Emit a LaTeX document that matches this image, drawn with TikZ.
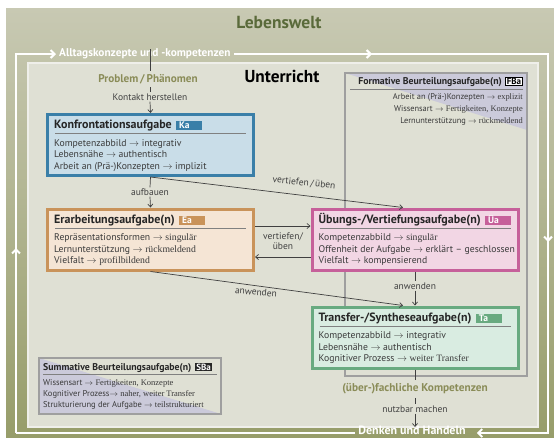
\documentclass[tikz,border=0pt]{standalone}
\usepackage{fontspec}
\setmainfont{PT Sans}
\newfontfamily\wertfont{Liberation Serif}
\usetikzlibrary{arrows.meta,calc}

\definecolor{lwhell}{HTML}{C8C9B3}
\definecolor{lwdunkel}{HTML}{979D6A}
\definecolor{lwtext}{HTML}{5A6A3A}
\definecolor{unterricht}{HTML}{DFE0D4}
\definecolor{oliv}{HTML}{8A8C58}
\definecolor{kablau}{HTML}{3A7FA8}
\definecolor{kahell}{HTML}{C9DDE8}
\definecolor{eaorange}{HTML}{C9935A}
\definecolor{eahell}{HTML}{F5E5D5}
\definecolor{uapink}{HTML}{C6609A}
\definecolor{uahell}{HTML}{F2D6E4}
\definecolor{tagruen}{HTML}{68AA80}
\definecolor{tahell}{HTML}{D9ECE1}
\definecolor{lavendel}{HTML}{CBCADA}
\definecolor{schrift}{HTML}{3A3A3A}
\definecolor{linie}{HTML}{404040}

\newcommand\wert[1]{{\wertfont #1}}

\begin{document}
\begin{tikzpicture}[x=1pt, y=-1pt, >={Straight Barb[length=3pt,width=5pt]},
  kasten/.style={rectangle, line width=3pt, minimum width=206pt, minimum height=61pt, inner sep=0pt},
  titel/.style={anchor=base west, inner sep=0pt, font=\fontsize{12}{14}\selectfont\bfseries, text=black!85},
  kuerzel/.style={anchor=base west, inner xsep=3pt, inner ysep=0pt, text height=7.5pt, text depth=1.5pt, text width=20pt, font=\fontsize{9.5}{10}\selectfont\bfseries, text=white},
  zeilen/.style={anchor=north west, inner sep=0pt, align=left, font=\fontsize{9.7}{11.7}\selectfont, text=schrift},
  trenner/.style={draw=gray, line width=1pt},
  verbinder/.style={draw=linie, line width=0.7pt},
  beschriftung/.style={font=\fontsize{9.5}{10.5}\selectfont, text=linie, inner sep=1pt},
  kreislauf/.style={draw=white, line width=2pt},
  kreispfeil/.style={-{Straight Barb[length=4pt,width=8pt]}},
  ]
  \useasboundingbox (0,0) rectangle (554,437);

  % Lebenswelt
  \shade[top color=lwhell, bottom color=lwdunkel] (6,8) rectangle (554,437);
  \node[font=\fontsize{17.5}{19}\selectfont\bfseries, text=lwtext] (lebenswelt) at (279,22) {Lebenswelt};

  % Unterricht
  \fill[unterricht] (28,63) rectangle (538,427);
  \draw[white!50!unterricht, line width=1.5pt] (28,63) rectangle (538,427);
  \node[font=\fontsize{17.3}{19}\selectfont\bfseries] (unterricht) at (282,76) {Unterricht};

  % Kreislauf
  \node[font=\fontsize{11.3}{13}\selectfont\bfseries, text=white, inner sep=3pt, anchor=west] (alltag) at (56,54) {Alltagskonzepte und -kompetenzen};
  \node[font=\fontsize{12}{13}\selectfont\bfseries, text=white, inner sep=3pt] (denken) at (412,430.5) {Denken und Handeln};
  \draw[kreislauf, kreispfeil] (16,433) -- (16,248);
  \draw[kreislauf, kreispfeil] (16,250) -- (16,54) -- (alltag.west);
  \draw[kreislauf, kreispfeil] (alltag.east) -- (372,54);
  \draw[kreislauf, kreispfeil] (370,54) -- (548,54) -- (548,242);
  \draw[kreislauf, kreispfeil] (548,240) -- (548,433) -- ($(denken.east |- 0,433)+(8,0)$);
  \draw[kreislauf] (denken.west |- 0,433) -- (16,433);

  % Formative Beurteilung
  \node[minimum width=182pt, minimum height=303pt, inner sep=0pt, outer sep=0pt] (fba) at (436,224.5) {};
  \fill[lavendel] (fba.north west) -- (fba.north east) -- ($(fba.north east)+(0,57)$) -- cycle;
  \draw[gray!75, line width=1.2pt] (fba.north west) rectangle (fba.south east);
  \node[anchor=base east, draw=black, fill=white, line width=0.6pt, inner xsep=1.5pt, inner ysep=1pt, font=\fontsize{9}{10}\selectfont\bfseries] (fbatag) at ($(fba.north east)+(-4,11.5)$) {FBa};
  \node[anchor=base east, inner sep=0pt, font=\fontsize{9.8}{11}\selectfont\bfseries, text=black!85] at ($(fbatag.base west)+(-3,0)$) {Formative Beurteilungsaufgabe(n)};
  \draw[trenner] ($(fba.north west)+(5,16)$) -- ($(fba.north east)+(-4,16)$);
  \node[anchor=north east, inner sep=0pt, align=right, font=\fontsize{8.4}{12}\selectfont, text=schrift] at ($(fba.north east)+(-4,20.5)$) {Arbeit an (Prä-)Konzepten $\rightarrow$ \wert{explizit}\\Wissensart $\rightarrow$ \wert{Fertigkeiten, Konzepte}\\Lernunterstützung $\rightarrow$ \wert{rückmeldend}};

  % Summative Beurteilung
  \node[minimum width=182pt, minimum height=56pt, inner sep=0pt, outer sep=0pt] (sba) at (130,386) {};
  \fill[lavendel] (sba.north west) -- (sba.south west) -- (sba.south east) -- cycle;
  \draw[gray!75, line width=1.2pt] (sba.north west) rectangle (sba.south east);
  \node[anchor=base west, inner sep=0pt, font=\fontsize{9.8}{11}\selectfont\bfseries, text=black!85] (sbatitel) at ($(sba.north west)+(4,12)$) {Summative Beurteilungsaufgabe(n)};
  \node[anchor=base west, fill=black!85, text=white, inner xsep=1.5pt, inner ysep=1pt, font=\fontsize{9}{10}\selectfont\bfseries] at ($(sbatitel.base east)+(3,0)$) {SBa};
  \draw[trenner] ($(sba.north west)+(4,16)$) -- ($(sba.north east)+(-4,16)$);
  \node[anchor=north west, inner sep=0pt, align=left, font=\fontsize{8.5}{11}\selectfont, text=schrift] at ($(sba.north west)+(4,21)$) {Wissensart $\rightarrow$ \wert{Fertigkeiten, Konzepte}\\Kognitiver Prozess$\rightarrow$ \wert{naher, weiter Transfer}\\Strukturierung der Aufgabe $\rightarrow$ \wert{teilstrukturiert}};

  % Konfrontationsaufgabe
  \node[kasten, draw=kablau, fill=kahell] (ka) at (150.5,145) {};
  \node[titel] (katitel) at ($(ka.north west)+(8,15.5)$) {Konfrontationsaufgabe};
  \node[kuerzel, fill=kablau] at ($(katitel.base east)+(4,0)$) {Ka};
  \draw[trenner] ($(ka.north west)+(9,20.5)$) -- ($(ka.north east)+(-9,20.5)$);
  \node[zeilen] at ($(ka.north west)+(8,26)$) {Kompetenzabbild $\rightarrow$ integrativ\\Lebensnähe $\rightarrow$ authentisch\\Arbeit an (Prä-)Konzepten $\rightarrow$ implizit};

  % Erarbeitungsaufgabe
  \node[kasten, draw=eaorange, fill=eahell] (ea) at (150.5,239.5) {};
  \node[titel] (eatitel) at ($(ea.north west)+(8,15.5)$) {Erarbeitungsaufgabe(n)};
  \node[kuerzel, fill=eaorange] at ($(eatitel.base east)+(4,0)$) {Ea};
  \draw[trenner] ($(ea.north west)+(9,21)$) -- ($(ea.north east)+(-9,21)$);
  \node[zeilen] at ($(ea.north west)+(8,26)$) {Repräsentationsformen $\rightarrow$ \wert{singulär}\\Lernunterstützung $\rightarrow$ \wert{rückmeldend}\\Vielfalt $\rightarrow$ \wert{profilbildend}};

  % Uebungsaufgabe
  \node[kasten, draw=uapink, fill=uahell] (ua) at (415,239.5) {};
  \node[titel] (uatitel) at ($(ua.north west)+(8,15.5)$) {Übungs-/Vertiefungsaufgabe(n)};
  \node[kuerzel, fill=uapink] at ($(uatitel.base east)+(4,0)$) {Üa};
  \draw[trenner] ($(ua.north west)+(9,21)$) -- ($(ua.north east)+(-9,21)$);
  \node[zeilen] at ($(ua.north west)+(8,26)$) {Kompetenzabbild $\rightarrow$ \wert{singulär}\\Offenheit der Aufgabe $\rightarrow$ erklärt -- geschlossen\\Vielfalt $\rightarrow$ kompensierend};

  % Transferaufgabe
  \node[kasten, draw=tagruen, fill=tahell] (ta) at (415,337.5) {};
  \node[titel] (tatitel) at ($(ta.north west)+(8,15.5)$) {Transfer-/Syntheseaufgabe(n)};
  \node[kuerzel, fill=tagruen] at ($(tatitel.base east)+(4,0)$) {Ta};
  \draw[trenner] ($(ta.north west)+(9,21)$) -- ($(ta.north east)+(-9,21)$);
  \node[zeilen] at ($(ta.north west)+(8,26)$) {Kompetenzabbild $\rightarrow$ integrativ\\Lebensnähe $\rightarrow$ authentisch\\Kognitiver Prozess $\rightarrow$ \wert{weiter Transfer}};

  % Einstieg
  \node[font=\fontsize{11.2}{13}\selectfont\bfseries, text=oliv] (problem) at (148,79) {Problem\,/\,Phänomen};
  \node[beschriftung] (kontakt) at (150,97) {Kontakt herstellen};
  \coordinate (alltagab) at (150,49);
  \draw[verbinder] (alltagab) -- (alltagab |- problem.north);
  \draw[verbinder] (problem.south -| kontakt.north) -- (kontakt.north);
  \draw[verbinder, ->] (kontakt.south) -- (ka.north);

  % Verbindungen
  \node[beschriftung] (aufbauen) at (150,192) {aufbauen};
  \draw[verbinder] (ka.south) -- (aufbauen.north);
  \draw[verbinder, ->] (aufbauen.south) -- (ea.north);

  \coordinate (uaein) at ($(ua.north)+(-12,0)$);
  \draw[verbinder, ->] (ka.south) -- (uaein);
  \node[beschriftung, rotate=-6] at (304,183) {vertiefen\,/\,üben};

  \draw[verbinder, ->] ($(ea.east)+(0,-13.5)$) -- ($(ua.west)+(0,-13.5)$);
  \draw[verbinder, ->] ($(ua.west)+(0,17.5)$) -- ($(ea.east)+(0,17.5)$);
  \node[beschriftung, align=center] at (283,241) {vertiefen/\\üben};

  \node[beschriftung] (anwendenua) at (415,286) {anwenden};
  \draw[verbinder] (ua.south) -- (anwendenua.north);
  \draw[verbinder, ->] (anwendenua.south) -- (ta.north);

  \coordinate (taein) at ($(ta.north)+(-12,0)$);
  \draw[verbinder, ->] (ea.south) -- (taein);
  \node[beschriftung, rotate=-6] at (256,292) {anwenden};

  % Ausstieg
  \node[font=\fontsize{11.3}{13}\selectfont\bfseries, text=oliv] (kompetenzen) at (415,389) {(über-)fachliche Kompetenzen};
  \node[beschriftung] (nutzbar) at (415,409) {nutzbar machen};
  \draw[verbinder] (ta.south) -- (kompetenzen.north);
  \draw[verbinder] (kompetenzen.south) -- (nutzbar.north);
  \draw[verbinder, ->] (nutzbar.south) -- (nutzbar.south |- 0,427);
\end{tikzpicture}
\end{document}
